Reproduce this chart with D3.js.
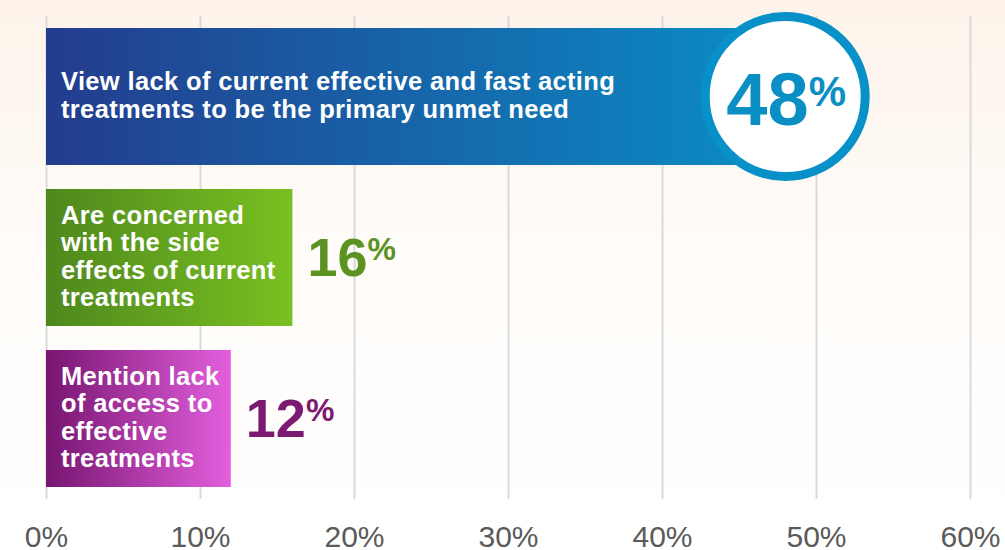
<!DOCTYPE html>
<html>
<head>
<meta charset="utf-8">
<script src="https://cdn.jsdelivr.net/npm/d3@7"></script>
<style>
html,body{margin:0;padding:0;background:#fff;}
svg{display:block;}
text{font-family:Arial,"Liberation Sans",Helvetica,sans-serif;}
</style>
</head>
<body>
<svg id="chart" width="1005" height="550"></svg>
<script>
// ---- data ----
const categories = [
  "View lack of current effective and fast acting treatments to be the primary unmet need",
  "Are concerned with the side effects of current treatments",
  "Mention lack of access to effective treatments"
];
const labelLines = [
  ["View lack of current effective and fast acting", "treatments to be the primary unmet need"],
  ["Are concerned", "with the side", "effects of current", "treatments"],
  ["Mention lack", "of access to", "effective", "treatments"]
];
const values = [48, 16, 12];
const tickValues = [0, 10, 20, 30, 40, 50, 60];

// ---- styles ----
const gradStops = [["#243c8d", "#0a8ec6"], ["#4e881d", "#79c021"], ["#771570", "#e35fdd"]];
const valueColors = ["#0a8fc5", "#5b9322", "#7a1a70"];

const W = 1005, H = 550;
const svg = d3.select("#chart");
const defs = svg.append("defs");

const bg = defs.append("linearGradient").attr("id", "bg").attr("x1", 0).attr("y1", 0).attr("x2", 0).attr("y2", 1);
bg.append("stop").attr("offset", "0%").attr("stop-color", "#fdf3ea");
bg.append("stop").attr("offset", "45%").attr("stop-color", "#fffcf9");
bg.append("stop").attr("offset", "100%").attr("stop-color", "#ffffff");
svg.append("rect").attr("width", W).attr("height", H).attr("fill", "url(#bg)");

gradStops.forEach((s, i) => {
  const g = defs.append("linearGradient").attr("id", "g" + i).attr("x1", 0).attr("y1", 0).attr("x2", 1).attr("y2", 0);
  g.append("stop").attr("offset", "0%").attr("stop-color", s[0]);
  g.append("stop").attr("offset", "100%").attr("stop-color", s[1]);
});

const x = d3.scaleLinear().domain([0, 60]).range([46, 970]);
const y = d3.scaleBand().domain(categories).range([16, 499]).paddingInner(0.149).paddingOuter(0.0745);

// grid + axis
const axis = svg.append("g").attr("transform", `translate(0,${y.range()[1]})`)
  .call(d3.axisBottom(x).tickValues(tickValues).tickSize(-(y.range()[1] - y.range()[0]))
    .tickPadding(27).tickFormat(d => d + "%"));
axis.select(".domain").remove();
axis.selectAll(".tick line").attr("stroke", "#dadada").attr("stroke-width", 2);
axis.selectAll(".tick text").attr("fill", "#5a5a5a").attr("font-size", 30)
  .attr("font-family", "Arial, 'Liberation Sans', sans-serif");

// bars
const rows = categories.map((c, i) => ({c, v: values[i], lines: labelLines[i], i}));
svg.selectAll("rect.bar").data(rows).enter().append("rect")
  .attr("class", "bar")
  .attr("x", x(0))
  .attr("y", d => y(d.c))
  .attr("width", d => x(d.v) - x(0))
  .attr("height", y.bandwidth())
  .attr("fill", d => "url(#g" + d.i + ")");

// bar labels
const lh = 27.5;
rows.forEach(d => {
  const cy = y(d.c) + y.bandwidth() / 2;
  const t = svg.append("text").attr("fill", "#fff").attr("font-weight", "bold")
    .attr("font-size", 25.5).attr("letter-spacing", 0.35);
  d.lines.forEach((ln, k) => {
    t.append("tspan").attr("x", x(0) + 15)
      .attr("y", cy - (d.lines.length - 1) / 2 * lh + 7.5 + k * lh)
      .text(ln);
  });
});

// value labels
rows.forEach(d => {
  const cy = y(d.c) + y.bandwidth() / 2;
  if (d.i === 0) {
    svg.append("circle").attr("cx", x(d.v)).attr("cy", cy).attr("r", 80)
      .attr("fill", "#fff").attr("stroke", "#0890c8").attr("stroke-width", 9);
    const t = svg.append("text").attr("x", x(d.v) + 1).attr("y", cy + 28)
      .attr("text-anchor", "middle").attr("fill", valueColors[0]).attr("font-weight", "bold");
    t.append("tspan").attr("font-size", 74).text(d.v);
    t.append("tspan").attr("font-size", 42).attr("dy", -19).text("%");
  } else {
    const t = svg.append("text").attr("x", x(d.v) + 15).attr("y", cy + 18)
      .attr("fill", valueColors[d.i]).attr("font-weight", "bold");
    t.append("tspan").attr("font-size", 54).text(d.v);
    t.append("tspan").attr("font-size", 32).attr("dy", -16).text("%");
  }
});
</script>
</body>
</html>
